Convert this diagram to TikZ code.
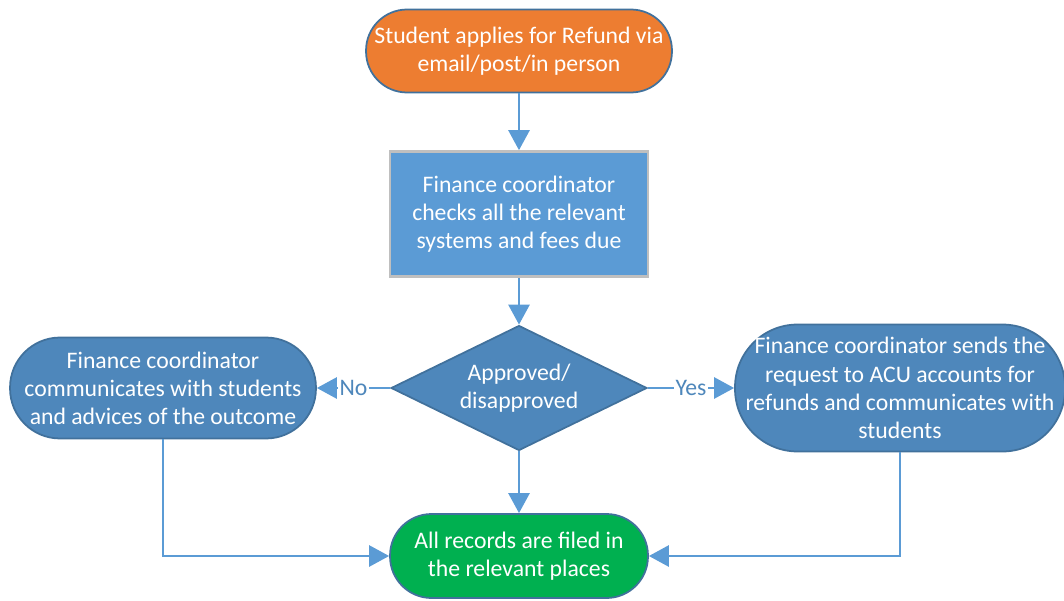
\documentclass[tikz,border=0pt]{standalone}
\usepackage{fontspec}
\setmainfont{Carlito}
\usetikzlibrary{shapes.geometric,arrows.meta}
\definecolor{orangeA}{HTML}{ED7D31}
\definecolor{greenA}{HTML}{00B050}
\definecolor{blueA}{HTML}{5B9BD5}
\definecolor{blueB}{HTML}{4E87BB}
\definecolor{edgeA}{HTML}{41719C}
\definecolor{greyA}{HTML}{BFBFBF}
\tikzset{
  box/.style={text=white, align=center, inner sep=2pt,
    font=\fontsize{13.5}{16}\selectfont},
  terminal/.style={box, rectangle, draw=edgeA, line width=1pt},
  process/.style={box, rectangle, fill=blueA, draw=greyA, line width=1.5pt,
    minimum width=5.16cm, minimum height=2.5cm},
  decision/.style={box, diamond, aspect=2, fill=blueB, draw=edgeA, line width=1pt,
    minimum width=5.12cm, minimum height=2.5cm, inner sep=0pt},
  flow/.style={draw=blueA, line width=1.5pt,
    -{Triangle[length=0.4cm, width=0.42cm]}},
  answer/.style={fill=white, text=blueB, inner sep=1pt,
    font=\fontsize{13.5}{16}\selectfont}
}

\begin{document}
\begin{tikzpicture}[x=0.02cm, y=-0.02cm]
  \useasboundingbox (0,0) rectangle (1064,601);
  \node[terminal, fill=orangeA, minimum width=6.12cm, minimum height=1.66cm,
    rounded corners=0.82cm]
    (apply) at (519,51) {Student applies for Refund via\\email/post/in person};
  \node[process] (check) at (519,214)
    {Finance coordinator\\checks all the relevant\\systems and fees due};
  \node[decision] (approve) at (519,388) {Approved/\\disapproved};
  \node[terminal, fill=blueB, minimum width=6.12cm, minimum height=2.02cm,
    rounded corners=1cm]
    (reject) at (163,388)
    {Finance coordinator\\communicates with students\\and advices of the outcome};
  \node[terminal, fill=blueB, minimum width=6.6cm, minimum height=2.54cm,
    rounded corners=1.25cm]
    (send) at (900,388)
    {Finance coordinator sends the\\request to ACU accounts for\\refunds and communicates with\\students};
  \node[terminal, fill=greenA, minimum width=5.16cm, minimum height=1.68cm,
    rounded corners=0.83cm]
    (file) at (519,556) {All records are filed in\\the relevant places};

  \draw[flow] (apply) -- (check);
  \draw[flow] (check) -- (approve);
  \draw[flow] (approve) -- node[answer] {No} (reject);
  \draw[flow] (approve) -- node[answer] {Yes} (send);
  \draw[flow] (approve) -- (file);
  \draw[flow] (reject.south) |- (file.west);
  \draw[flow] (send.south) |- (file.east);
\end{tikzpicture}
\end{document}
